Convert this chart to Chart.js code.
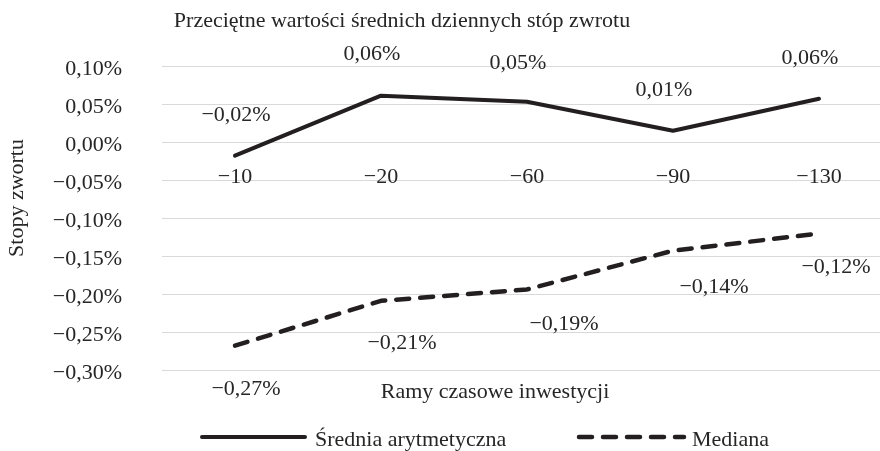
<!DOCTYPE html>
<html><head><meta charset="utf-8">
<script src="https://cdn.jsdelivr.net/npm/chart.js@4"></script>
<style>html,body{margin:0;padding:0;overflow:hidden;background:#fff}canvas{display:block}</style>
</head><body>
<canvas id="c" width="900" height="451"></canvas>
<script>
// ---- data ----
const categories = ['−10', '−20', '−60', '−90', '−130'];
const meanValues = [-0.018, 0.061, 0.053, 0.0149, 0.057];
const medianValues = [-0.268, -0.209, -0.194, -0.143, -0.1205];
const seriesNames = ['Średnia arytmetyczna', 'Mediana'];
const titleText = 'Przeciętne wartości średnich dziennych stóp zwrotu';
const yAxisTitle = 'Stopy zwortu';
const xAxisTitle = 'Ramy czasowe inwestycji';
const yMin = -0.30, yMax = 0.10, yStep = 0.05;

// ---- style ----
const FONT = '"Liberation Serif", "Times New Roman", serif';
const TEXT = '#262626';
const LINE = '#231f20';

function fmt(v) {
  const s = Math.abs(v).toFixed(2).replace('.', ',') + '%';
  return (v < -1e-9 && s !== '0,00%' ? '\u2212' : '') + s;
}

const decorPlugin = {
  id: 'decor',
  afterDatasetsDraw(chart, args, opts) {
    const ctx = chart.ctx;
    ctx.save();
    ctx.fillStyle = TEXT;
    ctx.font = '22px ' + FONT;
    ctx.textAlign = 'center';
    ctx.textBaseline = 'middle';
    chart.data.datasets.forEach((ds, di) => {
      const meta = chart.getDatasetMeta(di);
      meta.data.forEach((pt, i) => {
        const off = opts.labelOffsets[di][i];
        ctx.fillText(fmt(ds.data[i]), pt.x + off[0], pt.y + off[1]);
      });
    });
    // chart title and axis titles
    ctx.textBaseline = 'alphabetic';
    ctx.fillText(titleText, opts.title.x, opts.title.y);
    ctx.fillText(xAxisTitle, opts.xTitle.x, opts.xTitle.y);
    ctx.save();
    ctx.translate(opts.yTitle.x, opts.yTitle.y);
    ctx.rotate(-Math.PI / 2);
    ctx.textBaseline = 'middle';
    ctx.fillText(yAxisTitle, 0, 0);
    ctx.restore();
    // legend
    ctx.textAlign = 'left';
    ctx.textBaseline = 'alphabetic';
    chart.data.datasets.forEach((ds, di) => {
      const L = opts.legend[di];
      ctx.save();
      ctx.strokeStyle = ds.borderColor;
      ctx.lineWidth = ds.borderWidth;
      ctx.lineCap = 'round';
      ctx.setLineDash(ds.borderDash || []);
      ctx.beginPath();
      ctx.moveTo(L.x0, L.y);
      ctx.lineTo(L.x1, L.y);
      ctx.stroke();
      ctx.restore();
      ctx.fillText(ds.label, L.tx, L.ty);
    });
    ctx.restore();
  }
};

new Chart(document.getElementById('c'), {
  type: 'line',
  data: {
    labels: categories,
    datasets: [
      {
        label: seriesNames[0], data: meanValues,
        borderColor: LINE, backgroundColor: LINE, borderWidth: 4,
        borderCapStyle: 'round', borderJoinStyle: 'round',
        pointRadius: 0, tension: 0, fill: false
      },
      {
        label: seriesNames[1], data: medianValues,
        borderColor: LINE, backgroundColor: LINE, borderWidth: 4.5,
        borderDash: [13, 11], borderCapStyle: 'round', borderJoinStyle: 'round',
        pointRadius: 0, tension: 0, fill: false
      }
    ]
  },
  options: {
    responsive: false,
    animation: false,
    layout: { padding: { left: 0, top: 66, right: 8, bottom: 81 } },
    plugins: {
      legend: { display: false },
      title: { display: false },
      tooltip: { enabled: false },
      decor: {
        labelOffsets: [
          [[1, -40], [-9, -41], [-9, -39], [-9, -40], [-9, -40]],
          [[11, 44], [21, 42], [37, 35], [41, 37], [17, 34]]
        ],
        title: { x: 402, y: 27 },
        xTitle: { x: 495, y: 398 },
        yTitle: { x: 17, y: 198 },
        legend: [
          { x0: 202, x1: 305, y: 437, tx: 315, ty: 446 },
          { x0: 579, x1: 684, y: 437, tx: 692, ty: 446 }
        ]
      }
    },
    scales: {
      x: {
        type: 'category',
        offset: true,
        position: { y: 0 },
        grid: { display: false, drawTicks: false },
        border: { display: false },
        ticks: { padding: 22, color: TEXT, font: { family: FONT, size: 22 }, maxRotation: 0, autoSkip: false }
      },
      y: {
        min: yMin, max: yMax,
        grid: { color: '#d9d9d9', lineWidth: 1, drawTicks: false },
        border: { display: false },
        ticks: {
          stepSize: yStep, padding: 40, labelOffset: 3, color: TEXT,
          font: { family: FONT, size: 22 },
          callback: v => fmt(v)
        },
        afterFit: s => { s.width = 162; }
      }
    }
  },
  plugins: [decorPlugin]
});
</script>
</body></html>
